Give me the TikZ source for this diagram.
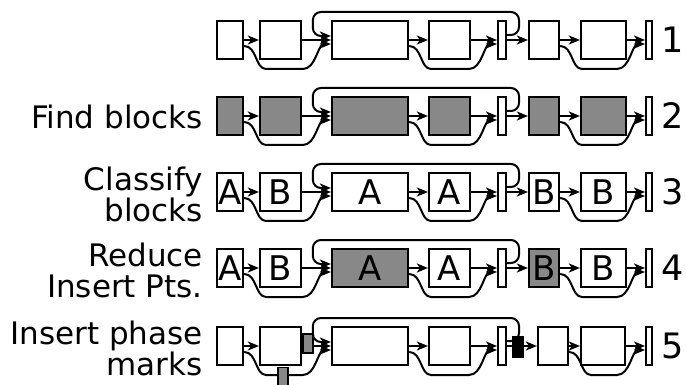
\documentclass[tikz,border=0pt]{standalone}
\usepackage{fontspec}
\setmainfont{DejaVu Sans}
\usetikzlibrary{arrows.meta}
\definecolor{blkgray}{HTML}{888888}
\tikzset{
  blk/.style={draw, line width=2.2pt, fill=white, inner sep=0pt, minimum height=38pt, font=\fontsize{34pt}{34pt}\selectfont},
  gblk/.style={blk, fill=blkgray},
  barbox/.style={draw, line width=2pt, fill=white, inner sep=0pt, minimum height=38pt},
  conn/.style={line width=2pt, -{Stealth[length=11pt,width=9pt,inset=3pt]}},
  lab/.style={anchor=east, align=right, inner sep=0pt, font=\fontsize{31pt}{31pt}\selectfont},
  num/.style={anchor=west, inner sep=0pt, font=\fontsize{35pt}{35pt}\selectfont},
  phasemark/.style={draw, line width=1.5pt, inner sep=0pt, minimum width=10pt}
}
\newcommand\chainlinks[1]{%
  \draw[conn] (#1b1.east) -- (#1b2.west);
  \draw[conn] (#1b2.east) -- (#1b3.west);
  \draw[conn] (#1b3.east) -- (#1b4.west);
  \draw[conn] (#1b4.east) -- (#1bar.west);
  \draw[conn] (#1bar.east) -- (#1b5.west);
  \draw[conn] (#1b5.east) -- (#1b6.west);
  \draw[conn] (#1b6.east) -- (#1fb.west);
  \draw[conn] ([yshift=-6pt]#1b1.east) .. controls +(13,0) and +(-11,0) .. ++(22,23)
     -- ([xshift=-28pt,yshift=-29pt]#1b3.west) .. controls +(13,0) and +(-13,0) .. ([yshift=-4pt]#1b3.west);
  \draw[conn] ([yshift=-6pt]#1b3.east) .. controls +(13,0) and +(-11,0) .. ++(22,23)
     -- ([xshift=-28pt,yshift=-29pt]#1bar.west) .. controls +(13,0) and +(-13,0) .. ([yshift=-4pt]#1bar.west);
  \draw[conn] ([yshift=-6pt]#1b5.east) .. controls +(13,0) and +(-11,0) .. ++(22,23)
     -- ([xshift=-28pt,yshift=-29pt]#1fb.west) .. controls +(13,0) and +(-13,0) .. ([yshift=-4pt]#1fb.west);
  \draw[conn, rounded corners=8pt] ([yshift=5pt]#1bar.east) -- ++(12,0) -- ++(0,-23)
     -- ([xshift=-18pt,yshift=28pt]#1b3.west) -- ([xshift=-18pt,yshift=4pt]#1b3.west) -- ([yshift=4pt]#1b3.west);
}
\begin{document}
\begin{tikzpicture}[x=1pt,y=-1pt]
\useasboundingbox (0,0) rectangle (686,385);

% Row 1
\node[blk,minimum width=26pt] (r1b1) at (230,40) {};
\node[blk,minimum width=41pt] (r1b2) at (280.5,40) {};
\node[blk,minimum width=76pt] (r1b3) at (370,40) {};
\node[blk,minimum width=41pt] (r1b4) at (449.5,40) {};
\node[barbox,minimum width=8pt] (r1bar) at (502,40) {};
\node[blk,minimum width=30pt] (r1b5) at (544,40) {};
\node[blk,minimum width=45pt] (r1b6) at (603.5,40) {};
\node[barbox,minimum width=6pt] (r1fb) at (649,40) {};
\node[num] (n1) at (661,40) {1};
\chainlinks{r1}

% Row 2
\node[lab] (l2) at (203,117) {Find blocks};
\node[gblk,minimum width=26pt] (r2b1) at (230,116) {};
\node[gblk,minimum width=41pt] (r2b2) at (280.5,116) {};
\node[gblk,minimum width=76pt] (r2b3) at (370,116) {};
\node[gblk,minimum width=41pt] (r2b4) at (449.5,116) {};
\node[barbox,minimum width=8pt] (r2bar) at (502,116) {};
\node[gblk,minimum width=30pt] (r2b5) at (544,116) {};
\node[gblk,minimum width=45pt] (r2b6) at (603.5,116) {};
\node[barbox,minimum width=6pt] (r2fb) at (649,116) {};
\node[num] (n2) at (661,116) {2};
\chainlinks{r2}

% Row 3
\node[lab] (l3) at (203,194) {Classify\\blocks};
\node[blk,minimum width=26pt] (r3b1) at (230,192) {A};
\node[blk,minimum width=41pt] (r3b2) at (280.5,192) {B};
\node[blk,minimum width=76pt] (r3b3) at (370,192) {A};
\node[blk,minimum width=41pt] (r3b4) at (449.5,192) {A};
\node[barbox,minimum width=8pt] (r3bar) at (502,192) {};
\node[blk,minimum width=30pt] (r3b5) at (544,192) {B};
\node[blk,minimum width=45pt] (r3b6) at (603.5,192) {B};
\node[barbox,minimum width=6pt] (r3fb) at (649,192) {};
\node[num] (n3) at (661,192) {3};
\chainlinks{r3}

% Row 4
\node[lab] (l4) at (203,270) {Reduce\\Insert Pts.};
\node[blk,minimum width=26pt] (r4b1) at (230,268) {A};
\node[blk,minimum width=41pt] (r4b2) at (280.5,268) {B};
\node[gblk,minimum width=76pt] (r4b3) at (370,268) {A};
\node[blk,minimum width=41pt] (r4b4) at (449.5,268) {A};
\node[barbox,minimum width=8pt] (r4bar) at (502,268) {};
\node[gblk,minimum width=30pt] (r4b5) at (544,268) {B};
\node[blk,minimum width=45pt] (r4b6) at (603.5,268) {B};
\node[barbox,minimum width=6pt] (r4fb) at (649,268) {};
\node[num] (n4) at (661,268) {4};
\chainlinks{r4}

% Row 5
\node[lab] (l5) at (203,348) {Insert phase\\marks};
\node[blk,minimum width=26pt] (r5b1) at (230,346) {};
\node[blk,minimum width=41pt] (r5b2) at (280.5,346) {};
\node[blk,minimum width=76pt] (r5b3) at (370,346) {};
\node[blk,minimum width=41pt] (r5b4) at (449.5,346) {};
\node[barbox,minimum width=8pt] (r5bar) at (502,346) {};
\node[blk,minimum width=30pt] (r5b5) at (553,346) {};
\node[blk,minimum width=44pt] (r5b6) at (603,346) {};
\node[barbox,minimum width=6pt] (r5fb) at (649,346) {};
\node[num] (n5) at (661,346) {5};
\chainlinks{r5}
\node[phasemark, fill=blkgray, minimum height=19pt] (m1) at (308,343.5) {};
\node[phasemark, fill=blkgray, minimum height=19pt] (m2) at (283,377) {};
\node[phasemark, fill=black, minimum height=20pt] (m3) at (518,347) {};
\end{tikzpicture}
\end{document}
